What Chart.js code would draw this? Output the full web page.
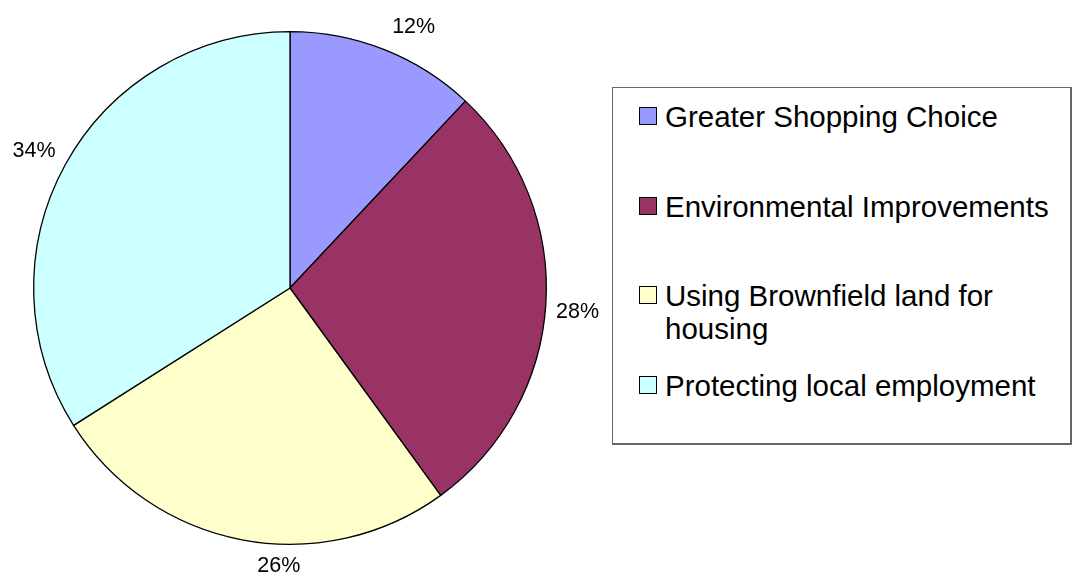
<!DOCTYPE html>
<html>
<head>
<meta charset="utf-8">
<script src="https://cdn.jsdelivr.net/npm/chart.js@4/dist/chart.umd.min.js"></script>
<style>
  html, body { margin: 0; padding: 0; background: #fff; }
  #wrap { position: relative; width: 1072px; height: 576px; overflow: hidden; }
  #pieChart { position: absolute; left: 0; top: 0; }
  #legendBox {
    position: absolute; left: 612px; top: 87px; width: 457px; height: 355px;
    border: 1px solid #666; border-right-width: 2px; border-bottom-width: 2px;
    background: #fff;
    font-family: "Liberation Sans", Arial, sans-serif; font-size: 29.5px; color: #000;
  }
  .legend-item { position: absolute; left: 0; width: 100%; }
  .legend-swatch {
    position: absolute; left: 26px; top: 7px; width: 16px; height: 16px;
    border: 1px solid #000;
  }
  .legend-text { position: absolute; left: 52px; width: 397px; line-height: 33px; }
</style>
</head>
<body>
<div id="wrap">
  <canvas id="pieChart" width="1072" height="576"></canvas>
  <div id="legendBox"></div>
</div>
<script>
// Survey answers (percent of respondents)
const CATEGORIES = [
  'Greater Shopping Choice',
  'Environmental Improvements',
  'Using Brownfield land for housing',
  'Protecting local employment'
];
const VALUES = [12, 28, 26, 34];

// Slice fills
const SLICE_COLORS = ['#9999ff', '#993366', '#ffffcc', '#ccffff'];

// Legend row tops inside the box, px
const LEGEND_ROW_TOPS = [12, 102, 191, 281];
// Small angular shift (degrees) and gap from the rim for each outside label
const LABEL_NUDGE = [3.6, 0.8, -8.5, -0.4];
const LABEL_GAP = [18, 10, 12, 12];
const LABEL_FONT = 21.5;

// Draws "NN%" outside each slice
const outsideLabels = {
  id: 'outsideLabels',
  afterDatasetsDraw(chart) {
    const ctx = chart.ctx;
    const meta = chart.getDatasetMeta(0);
    const total = VALUES.reduce((s, v) => s + v, 0);
    ctx.save();
    ctx.font = LABEL_FONT + 'px "Liberation Sans", Arial, sans-serif';
    ctx.fillStyle = '#000';
    ctx.textAlign = 'center';
    ctx.textBaseline = 'alphabetic';
    meta.data.forEach((arc, i) => {
      const text = Math.round(VALUES[i] / total * 100) + '%';
      const w = ctx.measureText(text).width;
      const h = LABEL_FONT * 0.716;
      const mid = (arc.startAngle + arc.endAngle) / 2 + LABEL_NUDGE[i] * Math.PI / 180;
      const cx = Math.cos(mid), sy = Math.sin(mid);
      const d = arc.outerRadius + LABEL_GAP[i] + Math.abs(cx) * w / 2 + Math.abs(sy) * h / 2;
      const x = arc.x + cx * d;
      const y = arc.y + sy * d;
      ctx.fillText(text, x, y + h / 2);
    });
    ctx.restore();
  }
};

new Chart(document.getElementById('pieChart'), {
  type: 'pie',
  data: {
    labels: CATEGORIES,
    datasets: [{
      data: VALUES,
      backgroundColor: SLICE_COLORS,
      borderColor: '#000',
      borderWidth: 1.3,
      hoverOffset: 0
    }]
  },
  options: {
    responsive: false,
    animation: false,
    devicePixelRatio: 1,
    layout: { padding: { left: 33, right: 525, top: 31, bottom: 31 } },
    plugins: {
      legend: { display: false },
      tooltip: { enabled: false }
    },
    events: []
  },
  plugins: [outsideLabels]
});

// Legend drawn as HTML from the same arrays
const box = document.getElementById('legendBox');
CATEGORIES.forEach((label, i) => {
  const row = document.createElement('div');
  row.className = 'legend-item';
  row.style.top = LEGEND_ROW_TOPS[i] + 'px';
  row.innerHTML = `<div class="legend-swatch" style="background:${SLICE_COLORS[i]}"></div>
    <div class="legend-text">${label}</div>`;
  box.appendChild(row);
});
</script>
</body>
</html>
